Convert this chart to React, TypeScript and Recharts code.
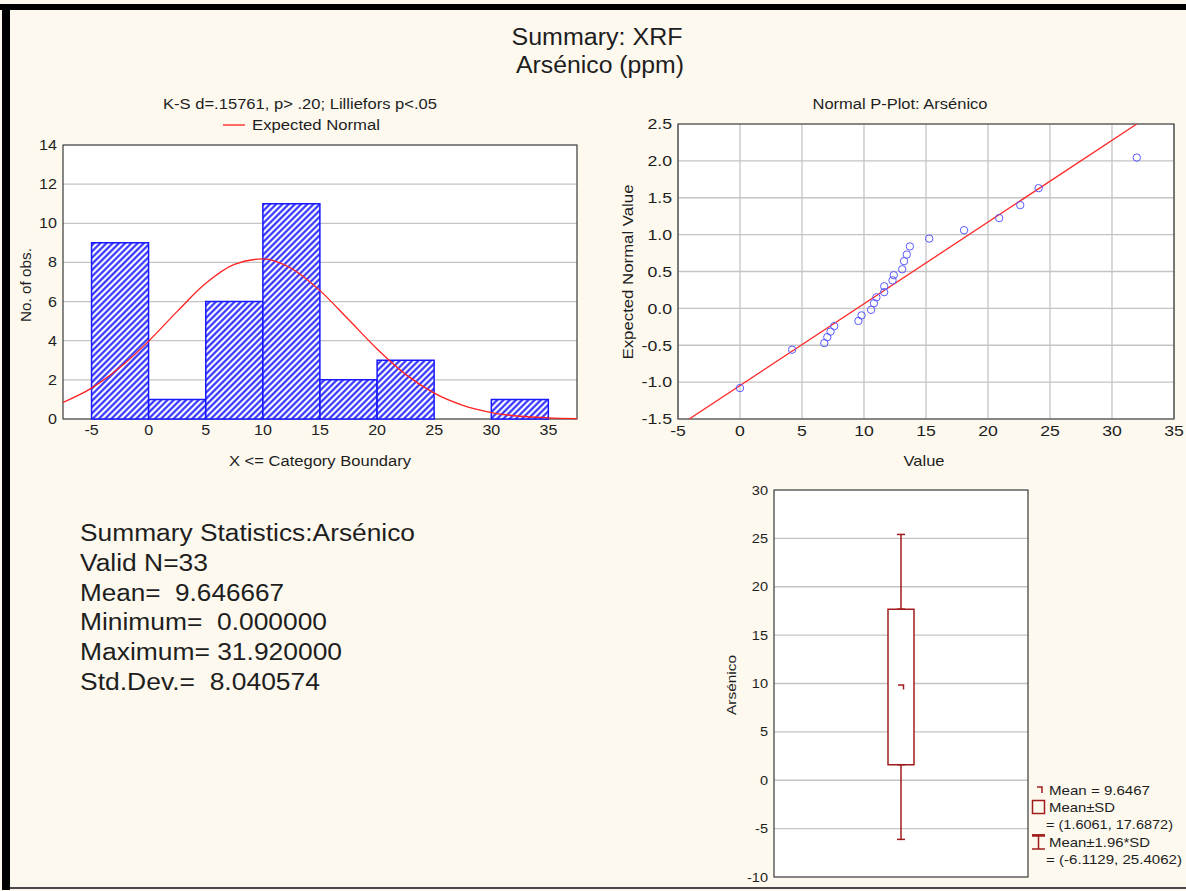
import React from "react";
import {
  ComposedChart,
  Bar,
  Line,
  Scatter,
  XAxis,
  YAxis,
  CartesianGrid,
  ReferenceArea,
  ErrorBar,
} from "recharts";

const FONT = '"Liberation Sans", Arial, sans-serif';
const BG = "#fdf9ee";
const GRID = "#c4c4c4";
const FRAME = "#3a3a3a";
const MAROON = "#a01c1c";
const INK = "#1e1e1e";

// histogram: bins of width 5, counts per bin
const binMids = [-2.5, 2.5, 7.5, 12.5, 17.5, 22.5, 27.5, 32.5];
const binCounts = [9, 1, 6, 11, 2, 3, 0, 1];
const histTicksX = [-5, 0, 5, 10, 15, 20, 25, 30, 35];
const histTicksY = [0, 2, 4, 6, 8, 10, 12, 14];

// expected normal curve
const normalX = [-7.5, -5, -2.5, 0, 2.5, 5, 7.5, 10, 12.5, 15, 17.5, 20, 22.5, 25, 27.5, 30, 32.5, 35, 37.5];
const normalY = [0.85, 1.58, 2.64, 3.98, 5.5, 6.93, 7.9, 8.18, 7.69, 6.56, 5.08, 3.58, 2.28, 1.32, 0.7, 0.33, 0.14, 0.06, 0.02];

// normal probability plot
const ppValue = [0, 4.2, 6.8, 7.04, 7.3, 7.6, 9.55, 9.8, 10.57, 10.8, 11.0, 11.63, 11.63, 12.3, 12.4, 13.08, 13.23, 13.45, 13.7, 15.26, 18.07, 20.9, 22.6, 24.08, 32.0];
const ppExpected = [-1.08, -0.56, -0.47, -0.39, -0.315, -0.24, -0.17, -0.095, -0.02, 0.07, 0.15, 0.22, 0.3, 0.38, 0.45, 0.53, 0.64, 0.73, 0.84, 0.946, 1.06, 1.225, 1.4, 1.63, 2.045];
const fitX = [-4.1, 32.0];
const fitY = [-1.5, 2.5];
const ppTicksX = [-5, 0, 5, 10, 15, 20, 25, 30, 35];
const ppTicksY = [-1.5, -1.0, -0.5, 0, 0.5, 1.0, 1.5, 2.0, 2.5];

// box plot
const boxMean = 9.6467;
const sdLow = 1.6061;
const sdHigh = 17.6872;
const ciLow = -6.1129;
const ciHigh = 25.4062;
const boxTicksY = [-10, -5, 0, 5, 10, 15, 20, 25, 30];

const statLines = [
  "Summary Statistics:Arsénico",
  "Valid N=33",
  "Mean=  9.646667",
  "Minimum=  0.000000",
  "Maximum= 31.920000",
  "Std.Dev.=  8.040574",
];
const statWidths = [335, 128, 204, 247, 262, 240];

const histData = binMids.map((x, i) => ({ x, count: binCounts[i] }));
const normalData = normalX.map((x, i) => ({ x, y: normalY[i] }));
const ppData = ppValue.map((x, i) => ({ x, y: ppExpected[i] }));
const fitData = fitX.map((x, i) => ({ x, y: fitY[i] }));
const boxData = [{ pos: 2, box: [sdLow, sdHigh] }];
const meanData = [{ pos: 2, y: boxMean }];
const lowWhisker = [{ pos: 2, y: sdLow, err: [sdLow - ciLow, 0] }];
const highWhisker = [{ pos: 2, y: sdHigh, err: [0, ciHigh - sdHigh] }];

// text stretched to the width it has in the picture
const T = ({ x, y, w, size = 13, anchor = "middle", rot = false, children }: any) => (
  <text
    x={rot ? 0 : x}
    y={rot ? 0 : y}
    transform={rot ? `translate(${x},${y}) rotate(-90)` : undefined}
    fontSize={size}
    fontFamily={FONT}
    textAnchor={anchor}
    dominantBaseline="central"
    textLength={w}
    lengthAdjust="spacingAndGlyphs"
    fill={INK}
    style={{ whiteSpace: "pre" }}
  >
    {children}
  </text>
);

const mkTick = (size: number, sx: number, anchor: string, fmt?: (v: number) => string) => (p: any) => {
  const v = fmt ? fmt(p.payload.value) : String(p.payload.value);
  return (
    <g transform={`translate(${p.x},${p.y}) scale(${sx},1)`}>
      <text
        x={0}
        y={0}
        dy={anchor === "middle" ? "0.71em" : "0.355em"}
        textAnchor={anchor}
        fontSize={size}
        fontFamily={FONT}
        fill={INK}
      >
        {v}
      </text>
    </g>
  );
};

const Hollow = (p: any) => (
  <circle cx={p.cx} cy={p.cy} r={3.7} fill="none" stroke="#5a5aff" strokeWidth={1} />
);
const NoDot = () => <g />;
const MeanMark = (p: any) => (
  <path d={`M${p.cx - 3},${p.cy - 2} h5.5 v4.5`} fill="none" stroke={MAROON} strokeWidth={1.5} />
);

export default function App() {
  return (
    <div
      style={{
        position: "absolute",
        left: 0,
        top: 0,
        width: 1186,
        height: 891,
        background: BG,
        fontFamily: FONT,
        overflow: "hidden",
      }}
    >
      <div style={{ position: "absolute", left: 0, top: 4, width: 1186, height: 6, background: "#000" }} />
      <div style={{ position: "absolute", left: 2, top: 4, width: 8, height: 886, background: "#000" }} />
      <div style={{ position: "absolute", left: 10, top: 887, width: 1176, height: 2, background: "#4a4a4a" }} />

      {/* histogram */}
      <div style={{ position: "absolute", left: 0, top: 135 }}>
        <ComposedChart
          width={590}
          height={345}
          data={histData}
          margin={{ top: 10, right: 13, left: 23, bottom: 31 }}
        >
          <defs>
            <pattern id="hatch" width="4.4" height="4.4" patternUnits="userSpaceOnUse" patternTransform="rotate(45)">
              <rect width="4.4" height="4.4" fill="#ffffff" />
              <line x1="2.2" y1="0" x2="2.2" y2="4.4" stroke="#2828ff" strokeWidth="2.1" />
            </pattern>
          </defs>
          <CartesianGrid vertical={false} stroke={GRID} strokeWidth={1.3} fill="#ffffff" />
          <XAxis
            type="number"
            dataKey="x"
            domain={[-7.5, 37.5]}
            ticks={histTicksX}
            allowDataOverflow
            height={30}
            axisLine={false}
            tickLine={false}
            tickSize={4}
            tickMargin={2}
            tick={mkTick(14, 1.15, "middle")}
          />
          <XAxis xAxisId="curve" type="number" dataKey="x" domain={[-7.5, 37.5]} allowDataOverflow hide />
          <YAxis
            type="number"
            domain={[0, 14]}
            ticks={histTicksY}
            width={40}
            axisLine={false}
            tickLine={false}
            tickSize={4}
            tickMargin={2}
            tick={mkTick(14, 1.15, "end")}
          />
          <Bar
            dataKey="count"
            barSize={57}
            fill="url(#hatch)"
            stroke="#1818ff"
            strokeWidth={1.5}
            isAnimationActive={false}
          />
          <Line
            xAxisId="curve"
            data={normalData}
            dataKey="y"
            type="monotone"
            stroke="#ff2020"
            strokeWidth={1.3}
            dot={false}
            isAnimationActive={false}
          />
          <ReferenceArea x1={-7.5} x2={37.5} y1={0} y2={14} fill="none" stroke={FRAME} strokeWidth={1.2} ifOverflow="visible" />
        </ComposedChart>
      </div>

      {/* normal probability plot */}
      <div style={{ position: "absolute", left: 600, top: 110 }}>
        <ComposedChart width={586} height={370} margin={{ top: 14, right: 12, left: 38, bottom: 31 }}>
          <CartesianGrid stroke={GRID} strokeWidth={1.3} fill="#ffffff" />
          <XAxis
            type="number"
            dataKey="x"
            domain={[-5, 35]}
            ticks={ppTicksX}
            allowDataOverflow
            height={30}
            axisLine={false}
            tickLine={false}
            tickSize={4}
            tickMargin={2}
            tick={mkTick(15, 1.18, "middle")}
          />
          <YAxis
            type="number"
            dataKey="y"
            domain={[-1.5, 2.5]}
            ticks={ppTicksY}
            allowDataOverflow
            width={40}
            axisLine={false}
            tickLine={false}
            tickSize={4}
            tickMargin={2}
            tick={mkTick(15, 1.18, "end", (v: number) => v.toFixed(1))}
          />
          <Scatter
            data={fitData}
            dataKey="y"
            line={{ stroke: "#ff2828", strokeWidth: 1.3 }}
            shape={NoDot}
            isAnimationActive={false}
          />
          <Scatter data={ppData} dataKey="y" shape={Hollow} isAnimationActive={false} />
          <ReferenceArea x1={-5} x2={35} y1={-1.5} y2={2.5} fill="none" stroke={FRAME} strokeWidth={1.2} ifOverflow="visible" />
        </ComposedChart>
      </div>

      {/* box plot */}
      <div style={{ position: "absolute", left: 700, top: 478 }}>
        <ComposedChart width={340} height={410} data={boxData} margin={{ top: 12, right: 12, left: 34, bottom: 11 }}>
          <CartesianGrid vertical={false} stroke={GRID} strokeWidth={1.3} fill="#ffffff" />
          <XAxis type="number" dataKey="pos" domain={[0, 4]} hide />
          <YAxis
            type="number"
            domain={[-10, 30]}
            ticks={boxTicksY}
            width={40}
            axisLine={false}
            tickLine={false}
            tickSize={4}
            tickMargin={2}
            tick={mkTick(13, 1.12, "end")}
          />
          <Scatter data={lowWhisker} dataKey="y" shape={NoDot} isAnimationActive={false}>
            <ErrorBar dataKey="err" direction="y" width={4} stroke={MAROON} strokeWidth={1.5} isAnimationActive={false} />
          </Scatter>
          <Scatter data={highWhisker} dataKey="y" shape={NoDot} isAnimationActive={false}>
            <ErrorBar dataKey="err" direction="y" width={4} stroke={MAROON} strokeWidth={1.5} isAnimationActive={false} />
          </Scatter>
          <Bar dataKey="box" barSize={26} fill="#ffffff" stroke={MAROON} strokeWidth={1.5} isAnimationActive={false} />
          <Scatter data={meanData} dataKey="y" shape={MeanMark} isAnimationActive={false} />
          <ReferenceArea x1={0} x2={4} y1={-10} y2={30} fill="none" stroke={FRAME} strokeWidth={1.2} ifOverflow="visible" />
        </ComposedChart>
      </div>

      {/* all titles, axis names, notes */}
      <svg
        style={{ position: "absolute", left: 0, top: 0, pointerEvents: "none" }}
        width={1186}
        height={891}
      >
        <T x={597} y={37} w={171} size={23}>Summary: XRF</T>
        <T x={600} y={65} w={168} size={23}>Arsénico (ppm)</T>

        <T x={300} y={104} w={274} size={14}>K-S d=.15761, p&gt; .20; Lilliefors p&lt;.05</T>
        <line x1={223} y1={125} x2={245} y2={125} stroke="#ff2020" strokeWidth={1.3} />
        <T x={252} y={125} w={128} size={14} anchor="start">Expected Normal</T>
        <T x={26} y={285} w={74} size={14} rot>No. of obs.</T>
        <T x={320} y={461} w={182} size={14}>X &lt;= Category Boundary</T>

        <T x={900} y={104} w={175} size={14}>Normal P-Plot: Arsénico</T>
        <T x={627} y={272} w={175} size={15} rot>Expected Normal Value</T>
        <T x={924} y={460} w={41} size={15}>Value</T>

        {statLines.map((s, i) => (
          <T key={i} x={80} y={533 + i * 29.8} w={statWidths[i]} size={23} anchor="start">
            {s}
          </T>
        ))}

        <T x={731} y={685} w={60} size={13} rot>Arsénico</T>

        <path d="M1037,787 h5 v6" fill="none" stroke={MAROON} strokeWidth={1.5} />
        <rect x={1032.5} y={800.5} width={12} height={13} fill="none" stroke={MAROON} strokeWidth={1.5} />
        <path d="M1032,835 h13 M1038.5,835 v14 M1032,849 h13" fill="none" stroke={MAROON} strokeWidth={1.5} />
        <path d="M1032,835.5 h13" stroke={MAROON} strokeWidth={2.5} />
        <T x={1049} y={790} w={101} size={13} anchor="start">Mean = 9.6467</T>
        <T x={1049} y={807} w={66} size={13} anchor="start">Mean±SD</T>
        <T x={1046} y={824} w={127} size={13} anchor="start">= (1.6061, 17.6872)</T>
        <T x={1049} y={842} w={101} size={13} anchor="start">Mean±1.96*SD</T>
        <T x={1046} y={859} w={136} size={13} anchor="start">= (-6.1129, 25.4062)</T>
      </svg>
    </div>
  );
}
